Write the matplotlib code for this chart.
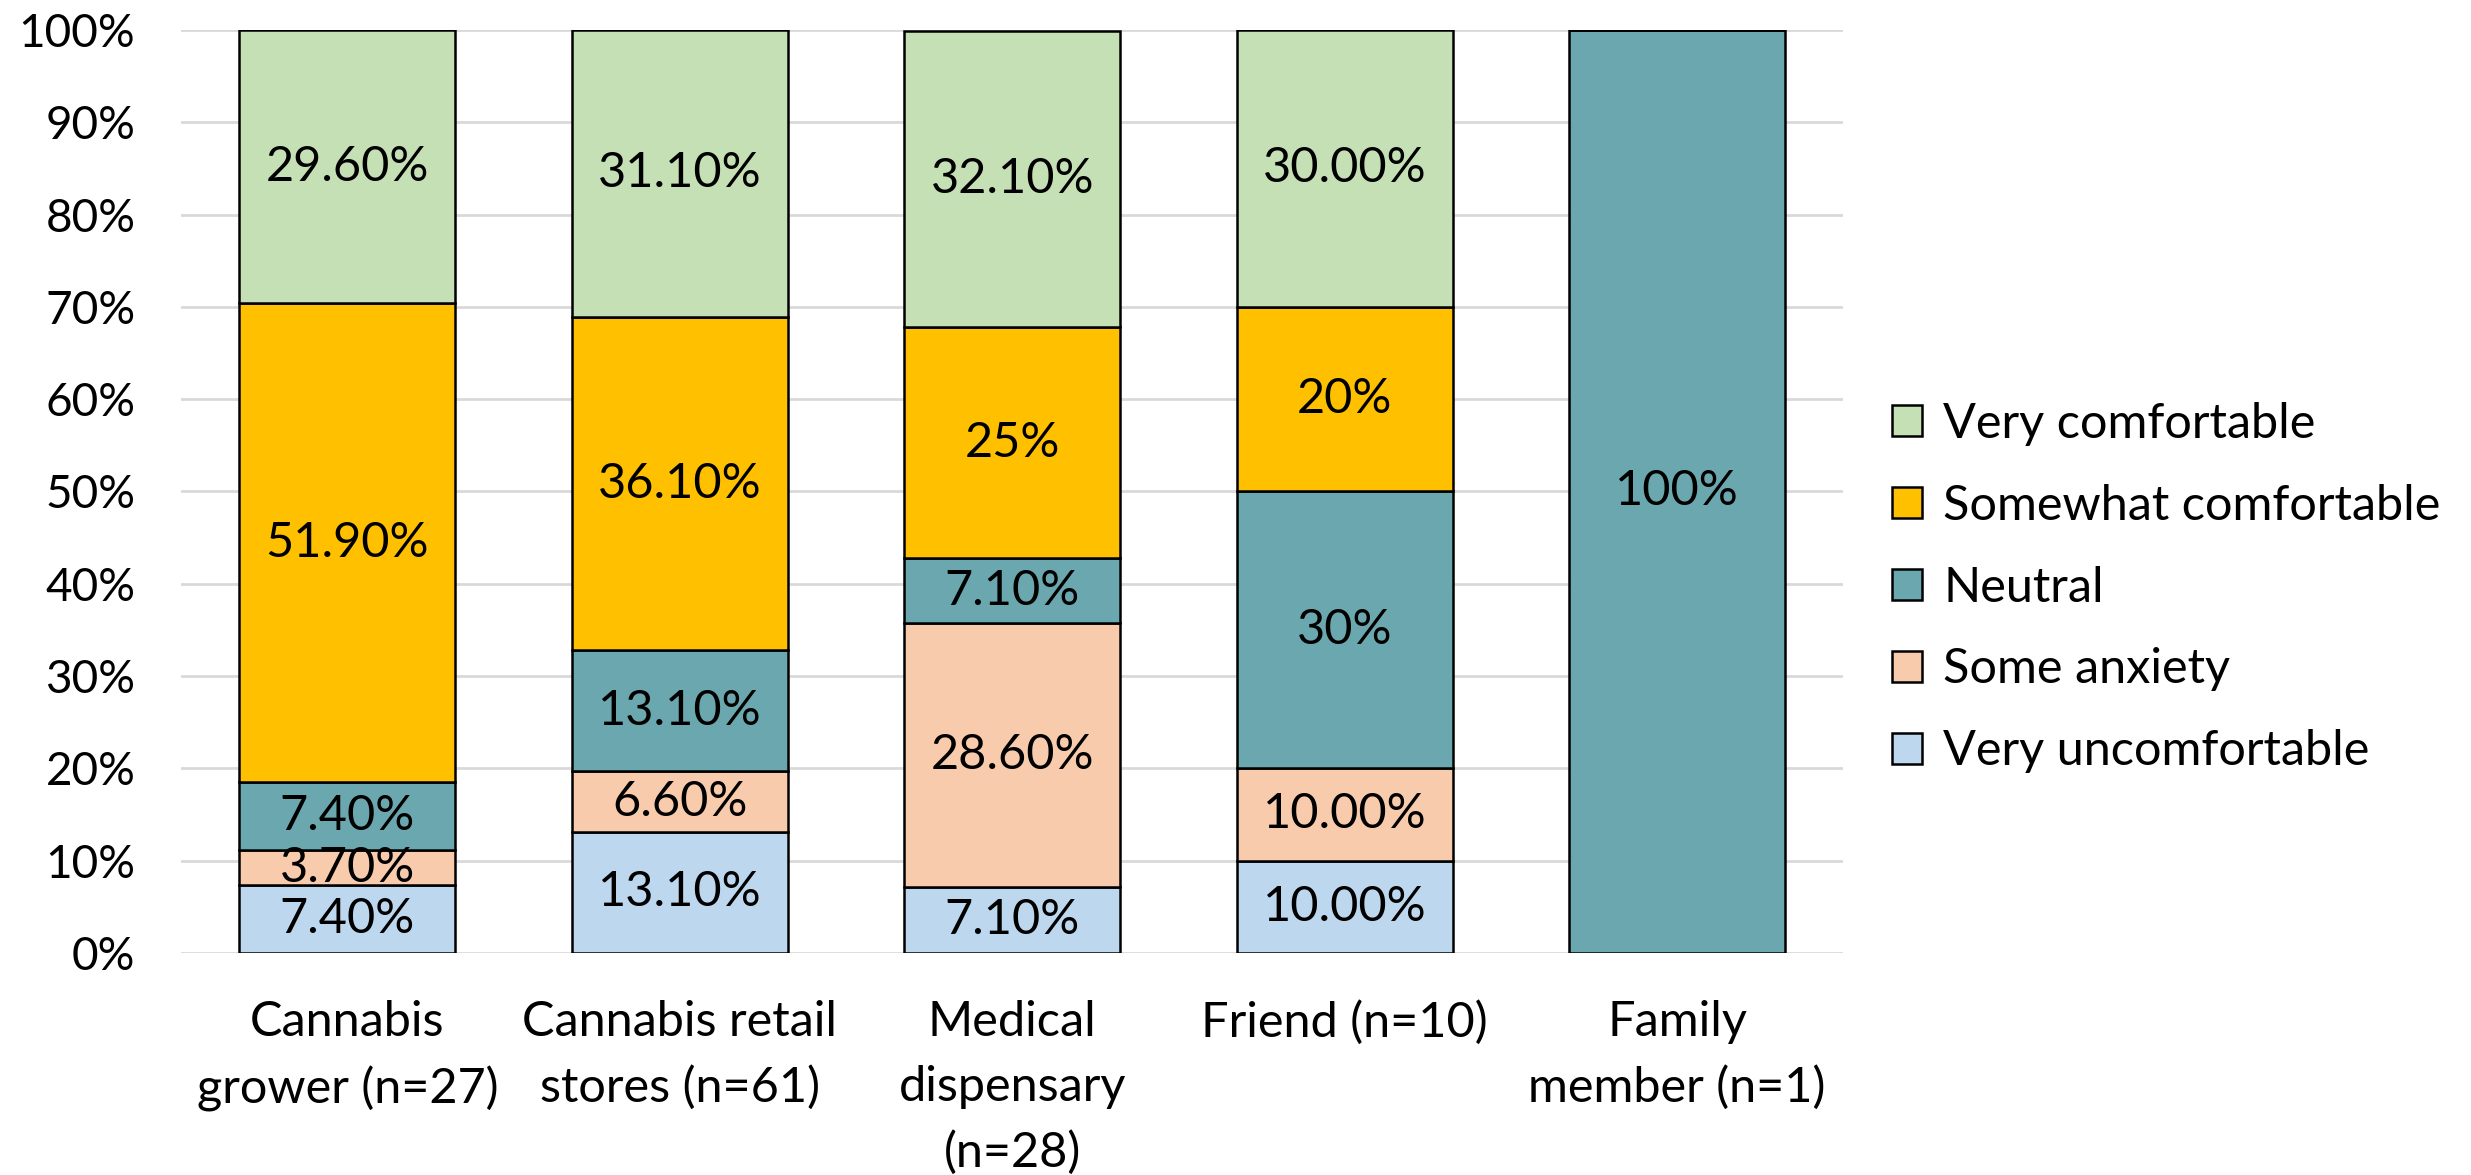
import matplotlib
matplotlib.use("Agg")
import matplotlib.pyplot as plt
import numpy as np

categories = ["Cannabis\ngrower (n=27)", "Cannabis retail\nstores (n=61)",
              "Medical\ndispensary\n(n=28)", "Friend (n=10)", "Family\nmember (n=1)"]
series_names = ["Very uncomfortable", "Some anxiety", "Neutral",
                "Somewhat comfortable", "Very comfortable"]
very_uncomfortable = [7.4, 13.1, 7.1, 10.0, 0]
some_anxiety = [3.7, 6.6, 28.6, 10.0, 0]
neutral = [7.4, 13.1, 7.1, 30.0, 100]
somewhat_comfortable = [51.9, 36.1, 25.0, 20.0, 0]
very_comfortable = [29.6, 31.1, 32.1, 30.0, 0]

lbl_vu = ["7.40%", "13.10%", "7.10%", "10.00%", ""]
lbl_sa = ["3.70%", "6.60%", "28.60%", "10.00%", ""]
lbl_n = ["7.40%", "13.10%", "7.10%", "30%", "100%"]
lbl_sc = ["51.90%", "36.10%", "25%", "20%", ""]
lbl_vc = ["29.60%", "31.10%", "32.10%", "30.00%", ""]

colors = ["#BDD7EE", "#F8CBAD", "#6BA7AE", "#FFC000", "#C5E0B4"]

plt.rcParams['font.family'] = ['Lato', 'DejaVu Sans']
fs = 35

fig = plt.figure(figsize=(24.71, 11.75), dpi=100)
ax = fig.add_axes([0.0733, 0.189, 0.6727, 0.7855])

series = [very_uncomfortable, some_anxiety, neutral, somewhat_comfortable, very_comfortable]
labels = [lbl_vu, lbl_sa, lbl_n, lbl_sc, lbl_vc]
x = np.arange(len(categories))
bottom = np.zeros(len(categories))
handles = []
for vals, lbls, name, c in zip(series, labels, series_names, colors):
    vals = np.array(vals, dtype=float)
    bars = ax.bar(x, vals, 0.65, bottom=bottom, color=c, edgecolor="black",
                  linewidth=1.8, label=name, zorder=3)
    handles.append(bars)
    for xi, v, b, t in zip(x, vals, bottom, lbls):
        if t:
            ax.text(xi, b + v / 2, t, ha="center", va="center", fontsize=fs,
                    color="black", zorder=4)
    bottom += vals

ax.set_ylim(0, 100)
ax.set_xlim(-0.5, len(categories) - 0.5)
ax.set_yticks(np.arange(0, 101, 10))
ax.set_yticklabels([f"{v}%" for v in range(0, 101, 10)], fontsize=33)
ax.set_xticks(x)
ax.set_xticklabels(categories, fontsize=fs, linespacing=1.58)
ax.tick_params(axis="y", length=0, pad=33)
ax.tick_params(axis="x", length=0, pad=34)
for s in ax.spines.values():
    s.set_visible(False)
ax.yaxis.grid(True, color="#D9D9D9", linewidth=2, zorder=0)
ax.set_axisbelow(True)

leg = fig.legend(handles[::-1], series_names[::-1], loc="center left",
                 bbox_to_anchor=(0.756, 0.50), frameon=False, fontsize=fs,
                 handlelength=0.6, handleheight=0.6, handletextpad=0.45,
                 labelspacing=0.78, borderpad=0)
for p in leg.get_patches():
    p.set_edgecolor("black")
    p.set_linewidth(1.8)

fig.savefig("out.png", dpi=100)
